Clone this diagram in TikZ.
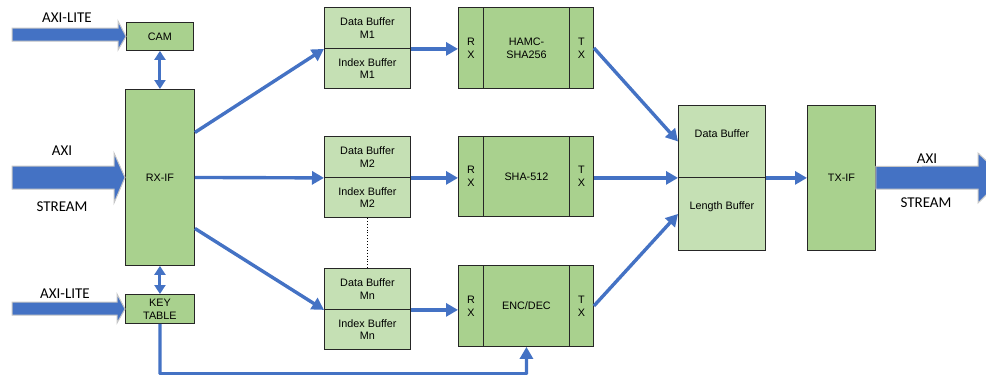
\documentclass[tikz,border=0pt]{standalone}
\usepackage{fontspec}
\setmainfont{Liberation Sans}
\newfontfamily\labelfont{Carlito}
\usetikzlibrary{arrows.meta,calc}

\definecolor{blockgreen}{HTML}{A9D18E}
\definecolor{buffergreen}{HTML}{C5E0B4}
\definecolor{flowblue}{HTML}{4472C4}
\definecolor{edgegray}{HTML}{262626}

\tikzset{
  box/.style={draw=edgegray, line width=0.9pt, anchor=north west, inner sep=0pt,
    align=center, font=\fontsize{10.8}{12.7}\selectfont},
  blockbox/.style={box, fill=blockgreen},
  bufbox/.style={box, fill=buffergreen},
  raisedtext/.style={text height=8pt, text depth=16.5pt},
  flow/.style={draw=flowblue, line width=3.4pt, -{Triangle[length=12pt,width=13pt]}},
  biflow/.style={draw=flowblue, line width=3pt,
    {Triangle[length=9pt,width=11pt]}-{Triangle[length=9pt,width=11pt]}},
  fatarrow/.style={fill=flowblue, draw=black!22, line width=1pt},
  extlabel/.style={font=\labelfont\fontsize{15}{17}\selectfont, inner sep=0pt},
}

\begin{document}
\begin{tikzpicture}[x=1pt,y=-1pt]
\useasboundingbox (0,0) rectangle (986,375);

% input side
\node[blockbox, minimum width=67pt, minimum height=28pt] (cam) at (126,22) {CAM};
\node[blockbox, minimum width=69pt, minimum height=176pt] (rxif) at (125,89) {RX-IF};
\node[blockbox, minimum width=69pt, minimum height=29pt] (key) at (125,294) {KEY\\TABLE};

% buffer pairs
\node[bufbox, minimum width=86pt, minimum height=41pt] (m1d) at (324,7) {Data Buffer\\M1};
\node[bufbox, minimum width=86pt, minimum height=40pt] (m1i) at (324,48) {Index Buffer\\M1};
\node[bufbox, minimum width=86pt, minimum height=41pt] (m2d) at (324,136) {Data Buffer\\M2};
\node[bufbox, minimum width=86pt, minimum height=40pt] (m2i) at (324,177) {Index Buffer\\M2};
\node[bufbox, minimum width=86pt, minimum height=41pt] (mnd) at (324,268) {Data Buffer\\Mn};
\node[bufbox, minimum width=86pt, minimum height=40pt] (mni) at (324,309) {Index Buffer\\Mn};

% processing engines: RX | core | TX
\node[blockbox, minimum width=25pt, minimum height=81pt] (hrx) at (458,7) {R\\X};
\node[blockbox, minimum width=86pt, minimum height=81pt] (hcore) at (483,7) {HAMC-\\SHA256};
\node[blockbox, minimum width=24pt, minimum height=81pt] (htx) at (569,7) {T\\X};

\node[blockbox, minimum width=25pt, minimum height=80pt] (srx) at (458,136) {R\\X};
\node[blockbox, minimum width=86pt, minimum height=80pt] (score) at (483,136) {SHA-512};
\node[blockbox, minimum width=24pt, minimum height=80pt] (stx) at (569,136) {T\\X};

\node[blockbox, minimum width=25pt, minimum height=81pt] (erx) at (458,265) {R\\X};
\node[blockbox, minimum width=86pt, minimum height=81pt] (ecore) at (483,265) {ENC/DEC};
\node[blockbox, minimum width=24pt, minimum height=81pt] (etx) at (569,265) {T\\X};

% output side
\node[bufbox, raisedtext, minimum width=87pt, minimum height=72pt] (odata) at (678,105) {Data Buffer};
\node[bufbox, raisedtext, minimum width=87pt, minimum height=73pt] (olen) at (678,177) {Length Buffer};
\node[blockbox, minimum width=68pt, minimum height=145pt] (txif) at (807,105) {TX-IF};

% external interface arrows
\coordinate (litein) at (12,34.5);
\coordinate (axiin) at (12,177.5);
\coordinate (keyin) at (12,308.5);
\fill[fatarrow] (litein) ++(0,-6.5) -- (118,28) -- (118,21) -- (cam.west) -- (118,50) -- (118,41) -- ++(-106,0) -- cycle;
\fill[fatarrow] (axiin) ++(0,-11.5) -- (114,166) -- (114,153) -- (rxif.west) -- (114,203) -- (114,189) -- (12,189) -- cycle;
\fill[fatarrow] (keyin) ++(0,-6.5) -- (117,302) -- (117,294) -- (key.west) -- (117,323) -- (117,315) -- (12,315) -- cycle;
\fill[fatarrow] (txif.east) ++(0,-11.5) -- (978,166) -- (978,153) -- (1004,177.5) -- (978,203) -- (978,189) -- (txif.east |- 0,189) -- cycle;

\node[extlabel] (l1) at (67,18) {AXI-LITE};
\node[extlabel] (l2) at (62,151) {AXI};
\node[extlabel] (l3) at (62,207) {STREAM};
\node[extlabel] (l4) at (65,294) {AXI-LITE};
\node[extlabel] (l5) at (927,159) {AXI};
\node[extlabel] (l6) at (926,203) {STREAM};

% control links
\draw[biflow] (cam.south) -- (rxif.north);
\draw[biflow] (rxif.south) -- (key.north);

% data flow
\draw[flow] ([yshift=45pt]rxif.east) -- (m1d.south west);
\draw[flow] (rxif.east) -- (m2d.south west);
\draw[flow] ([yshift=-51pt]rxif.east) -- (mnd.south west);

\draw[flow] (m1d.south east) -- (m1d.south east -| hrx.west);
\draw[flow] (m2d.south east) -- (m2d.south east -| srx.west);
\draw[flow] (mnd.south east) -- (mnd.south east -| erx.west);

\draw[flow] (htx.east) -- (odata.west);
\draw[flow] (odata.south west -| stx.east) -- (odata.south west);
\draw[flow] (etx.east) -- (olen.west);
\draw[flow] (odata.south east) -- (odata.south east -| txif.west);

\draw[dotted, line width=0.9pt] (m2i.south) -- (mnd.north);

% key feedback into the cipher engine
\draw[flow, rounded corners=1pt] (key.south) -- ++(0,50) -| (ecore.south);
\end{tikzpicture}
\end{document}
